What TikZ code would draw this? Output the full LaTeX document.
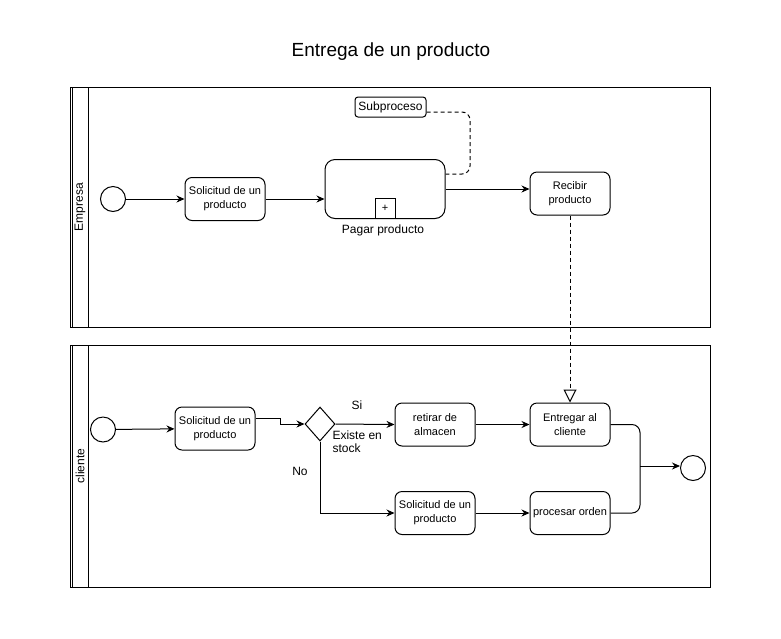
\documentclass[tikz,border=0pt]{standalone}
\usepackage{fontspec}
\setmainfont{Liberation Sans}
\usetikzlibrary{arrows.meta,positioning,shapes.geometric}
\tikzstyle{tarea} = [draw=black, fill=white, rectangle, rounded corners=7pt,
minimum width=80pt, minimum height=43pt, inner sep=1pt, align=center,
font=\fontsize{11}{14}\selectfont]
\tikzstyle{evento} = [draw=black, fill=white, circle, minimum size=25pt, inner sep=0pt]
\tikzstyle{compuerta} = [draw=black, fill=white, diamond, minimum width=30pt,
minimum height=34pt, inner sep=0pt]
\tikzstyle{etiqueta} = [font=\fontsize{12}{13}\selectfont, inner sep=1pt]
\tikzstyle{flujo} = [-{Stealth[length=8pt,width=7pt]}]
\tikzstyle{mensaje} = [dash pattern=on 4pt off 3pt, -{Triangle[open,length=13pt,width=13pt]}]
\tikzstyle{asociacion} = [dash pattern=on 4pt off 3pt, rounded corners=8pt]

\begin{document}
\begin{tikzpicture}[x=1pt, y=-1pt, line width=1pt]
    \useasboundingbox (0,0) rectangle (781,638);
    \node[font=\fontsize{19}{22}\selectfont] (titulo) at (391,52) {Entrega de un producto};
    % carriles
    \draw (70,87) rectangle (710,327);
    \draw (72.5,87) -- (72.5,327);
    \draw (88,87) -- (88,327);
    \node[etiqueta, rotate=90] (lempresa) at (80,207) {Empresa};
    \draw (70,345) rectangle (710,587);
    \draw (72.5,345) -- (72.5,587);
    \draw (88,345) -- (88,587);
    \node[etiqueta, rotate=90] (lcliente) at (80,466) {cliente};
    % Empresa
    \node[evento] (ini1) at (113,199) {};
    \node[tarea] (sol1) at (225,199) {Solicitud de un\\producto};
    \node[draw=black, fill=white, rectangle, rounded corners=10pt,
        minimum width=120pt, minimum height=59pt] (sub) at (385,189) {};
    \node[draw=black, fill=white, minimum size=20pt, inner sep=0pt,
        font=\fontsize{11}{11}\selectfont] (mas) at (385,208.5) {+};
    \node[etiqueta] (lsub) at (383,230) {Pagar producto};
    \node[draw=black, rounded corners=3pt, minimum width=71pt, minimum height=20pt,
        inner sep=1pt, font=\fontsize{12}{13}\selectfont] (nota) at (390.5,107) {Subproceso};
    \node[tarea] (rec) at (570,193.5) {Recibir\\producto};
    \draw[flujo] (ini1) -- (sol1);
    \draw[flujo] (sol1.east) -- (sol1.east -| sub.west);
    \draw[flujo] (sub.east) -- (sub.east -| rec.west);
    \draw[asociacion] ([yshift=-5pt]nota.east) -| (470,174) -- ([yshift=15pt]sub.east);
    % cliente
    \node[evento] (ini2) at (103,429.5) {};
    \node[tarea] (sol2) at (215,428.5) {Solicitud de un\\producto};
    \node[compuerta] (gw) at (320,424) {};
    \node[etiqueta] (si) at (357,405) {Si};
    \node[etiqueta, align=left, anchor=north west] (stock) at (331,429) {Existe en\\stock};
    \node[etiqueta] (no) at (300,471) {No};
    \node[tarea] (ret) at (435,424.5) {retirar de\\almacen};
    \node[tarea] (ent) at (570,424.5) {Entregar al\\cliente};
    \node[tarea] (sol3) at (435,513) {Solicitud de un\\producto};
    \node[tarea] (proc) at (570,513) {procesar orden};
    \node[evento] (fin) at (693,468) {};
    \coordinate (union) at (640,466);
    \draw[flujo] (ini2) -- (sol2);
    \draw[flujo] ([yshift=10pt]sol2.east) -- ++(25,0) |- (gw.west);
    \draw[flujo] (gw.east) -- (ret.west);
    \draw[flujo] (gw.south) |- (sol3.west);
    \draw[flujo] (ret) -- (ent);
    \draw[flujo] (sol3) -- (proc);
    \draw[rounded corners=8pt] (ent.east) -| (union) |- (proc.east);
    \draw[flujo] (union) -- (union -| fin.west);
    % mensaje
    \draw[mensaje, fill=white] (rec.south) -- (ent.north);
\end{tikzpicture}
\end{document}
